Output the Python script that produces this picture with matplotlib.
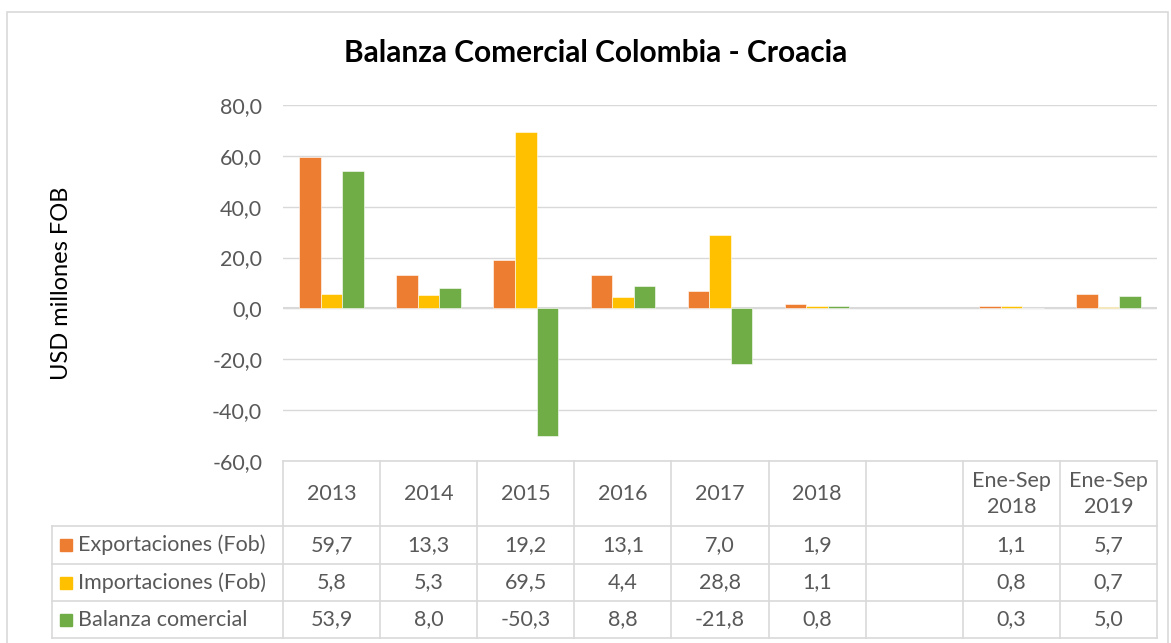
import matplotlib.pyplot as plt
import numpy as np

categorias = ['2013', '2014', '2015', '2016', '2017', '2018', '', 'Ene-Sep\n2018', 'Ene-Sep\n2019']
exportaciones = [59.7, 13.3, 19.2, 13.1, 7.0, 1.9, np.nan, 1.1, 5.7]
importaciones = [5.8, 5.3, 69.5, 4.4, 28.8, 1.1, np.nan, 0.8, 0.7]
balanza = [53.9, 8.0, -50.3, 8.8, -21.8, 0.8, np.nan, 0.3, 5.0]
series = ['Exportaciones (Fob)', 'Importaciones (Fob)', 'Balanza comercial']
colores = ['#ED7D31', '#FFC000', '#70AD47']

plt.rcParams['font.family'] = ['Lato', 'DejaVu Sans']
gris = '#595959'
linea = '#d9d9d9'
fs = 15.5

W, H = 1171, 643
fig = plt.figure(figsize=(W / 100, H / 100), dpi=100)

def fx(px):
    return px / W

def fy(py):
    return 1 - py / H

# caja exterior
fig.patches.append(plt.Rectangle((fx(7), fy(700)), fx(1161), fy(12) - fy(700),
                                 transform=fig.transFigure, fill=False,
                                 edgecolor=linea, linewidth=1.2))

x0, x1, ytop, ybot = 283, 1157, 105, 461
ax = fig.add_axes([fx(x0), fy(ybot), fx(x1 - x0), fy(ytop) - fy(ybot)])

n = len(categorias)
x = np.arange(n)
w = 1 / 4.5
for i, (vals, col) in enumerate(zip([exportaciones, importaciones, balanza], colores)):
    ax.bar(x + (i - 1) * w, vals, w, color=col, edgecolor='white', linewidth=0.4, zorder=3)

ax.set_xlim(-0.5, n - 0.5)
ax.set_ylim(-60, 80)
ax.set_yticks(range(-60, 81, 20))
ax.set_yticklabels([f'{v:.1f}'.replace('.', ',') for v in range(-60, 81, 20)],
                   color=gris, fontsize=fs)
ax.tick_params(axis='y', length=0, pad=15)
ax.set_xticks([])
ax.grid(axis='y', color=linea, linewidth=1, zorder=0)
ax.axhline(0, color=linea, linewidth=1.5, zorder=2)
for s in ax.spines.values():
    s.set_visible(False)

fig.text(fx(596), fy(53), 'Balanza Comercial Colombia - Croacia', ha='center', va='center',
         fontsize=21.5, fontweight='bold', color='black')
fig.text(fx(62), fy(283), 'USD millones FOB', rotation=90, ha='center', va='center',
         fontsize=17, color='black')

# tabla de datos
filas = [461, 526, 564, 601, 638]
colw = (x1 - x0) / n
bordes = [x0 + k * colw for k in range(n + 1)]
kw = dict(transform=fig.transFigure, color=linea, linewidth=1.2, clip_on=False)
fig.add_artist(plt.Line2D([fx(x0), fx(x1)], [fy(461), fy(461)], **kw))
for yy in filas[1:]:
    fig.add_artist(plt.Line2D([fx(52), fx(x1)], [fy(yy), fy(yy)], **kw))
for xx in bordes:
    fig.add_artist(plt.Line2D([fx(xx), fx(xx)], [fy(461), fy(638)], **kw))
fig.add_artist(plt.Line2D([fx(52), fx(52)], [fy(526), fy(638)], **kw))

for k, cat in enumerate(categorias):
    cx = bordes[k] + colw / 2
    fig.text(fx(cx), fy(494), cat, ha='center', va='center', fontsize=fs,
             color=gris, linespacing=1.35)

for r, (nombre, vals, col) in enumerate(zip(series, [exportaciones, importaciones, balanza], colores)):
    cy = (filas[r + 1] + filas[r + 2]) / 2
    fig.patches.append(plt.Rectangle((fx(60), fy(cy + 6)), fx(12), fy(cy - 6) - fy(cy + 6),
                                     transform=fig.transFigure, color=col))
    fig.text(fx(78), fy(cy), nombre, ha='left', va='center', fontsize=fs, color=gris)
    for k, v in enumerate(vals):
        if np.isnan(v):
            continue
        cx = bordes[k] + colw / 2
        fig.text(fx(cx), fy(cy), f'{v:.1f}'.replace('.', ','), ha='center', va='center',
                 fontsize=fs, color=gris)

fig.savefig('out.png', dpi=100, facecolor='white')
